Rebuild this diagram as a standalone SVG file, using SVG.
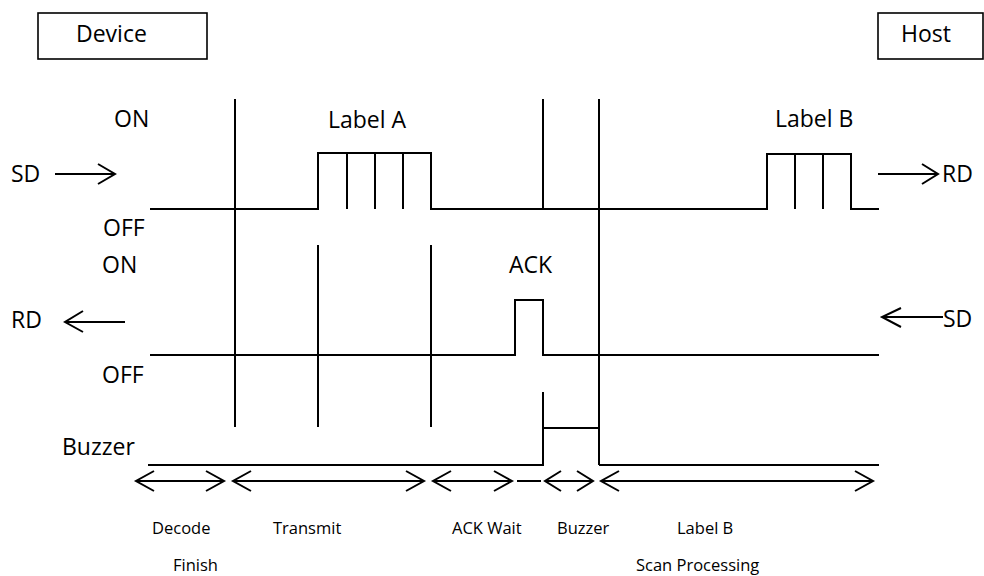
<svg xmlns="http://www.w3.org/2000/svg" width="984" height="576" viewBox="0 0 984 576">
<style>
.bg{fill:#fff}
.ln{stroke:#000;stroke-width:2;fill:none}
.th{stroke:#000;stroke-width:1.6;fill:none}
.box{stroke:#000;stroke-width:1.6;fill:#fff}
.big{font-family:"Open Sans","Noto Sans",sans-serif;font-size:23px;fill:#000}
.sm{font-family:"Open Sans","Noto Sans",sans-serif;font-size:16.5px;fill:#000}
</style>
<rect class="bg" x="0" y="0" width="984" height="576"/>
<g id="device">
<rect class="box" x="38" y="13" width="169" height="46"/>
<text class="big" x="76" y="42">Device</text>
</g>
<g id="host">
<rect class="box" x="878" y="13" width="105" height="46"/>
<text class="big" x="901" y="42">Host</text>
</g>
<g id="labels">
<text class="big" x="114" y="127">ON</text>
<text class="big" x="103" y="236">OFF</text>
<text class="big" x="102" y="273">ON</text>
<text class="big" x="102" y="383">OFF</text>
<text class="big" x="62" y="455">Buzzer</text>
<text class="big" x="328" y="128">Label A</text>
<text class="big" x="775" y="127">Label B</text>
<text class="big" x="509" y="273">ACK</text>
<text class="big" x="11" y="182">SD</text>
<text class="big" x="942" y="182">RD</text>
<text class="big" x="11" y="328">RD</text>
<text class="big" x="943" y="327">SD</text>
</g>
<g id="phase-labels">
<text class="sm" x="152" y="534">Decode</text>
<text class="sm" x="173" y="571">Finish</text>
<text class="sm" x="273" y="534">Transmit</text>
<text class="sm" x="452" y="534">ACK Wait</text>
<text class="sm" x="557" y="534">Buzzer</text>
<text class="sm" x="677" y="534">Label B</text>
<text class="sm" x="636" y="571">Scan Processing</text>
</g>
<g id="sd-line">
<polyline class="ln" points="150,209 318,209 318,153 431,153 431,209 767,209 767,154 851,154 851,209 879,209"/>
<line class="ln" x1="347" y1="153" x2="347" y2="209"/>
<line class="ln" x1="375" y1="153" x2="375" y2="209"/>
<line class="ln" x1="403" y1="153" x2="403" y2="209"/>
<line class="ln" x1="795" y1="154" x2="795" y2="209"/>
<line class="ln" x1="823" y1="154" x2="823" y2="209"/>
</g>
<g id="rd-line">
<polyline class="ln" points="150,355 515,355 515,300 543,300 543,355 879,355"/>
</g>
<g id="buzzer-line">
<polyline class="ln" points="148,465 543,465 543,428 599,428"/>
<line class="ln" x1="599" y1="465" x2="879" y2="465"/>
</g>
<g id="connectors">
<line class="ln" x1="235" y1="99" x2="235" y2="427"/>
<line class="ln" x1="543" y1="99" x2="543" y2="209"/>
<line class="ln" x1="599" y1="99" x2="599" y2="465"/>
<line class="ln" x1="318" y1="245" x2="318" y2="427"/>
<line class="ln" x1="431" y1="245" x2="431" y2="427"/>
<line class="ln" x1="543" y1="392" x2="543" y2="465"/>
<path class="ln" d="M55,174H115M98,164L115,174L98,184"/>
<path class="ln" d="M878,174H938M922,164L938,174L922,184"/>
<path class="ln" d="M125,322H65M83,311L65,322L83,332"/>
<path class="ln" d="M943,317H882M901,308L882,317L901,327"/>
<path class="ln" d="M136,481H224M154,471L136,481L154,491M206,471L224,481L206,491"/>
<path class="ln" d="M233,481H424M251,471L233,481L251,491M406,471L424,481L406,491"/>
<path class="ln" d="M433,481H512M451,471L433,481L451,491M494,471L512,481L494,491"/>
<path class="ln" d="M517,481H541"/>
<path class="ln" d="M545,481H593M561,471L545,481L561,491M577,471L593,481L577,491"/>
<path class="ln" d="M601,481H873M619,471L601,481L619,491M855,471L873,481L855,491"/>
</g>
</svg>
